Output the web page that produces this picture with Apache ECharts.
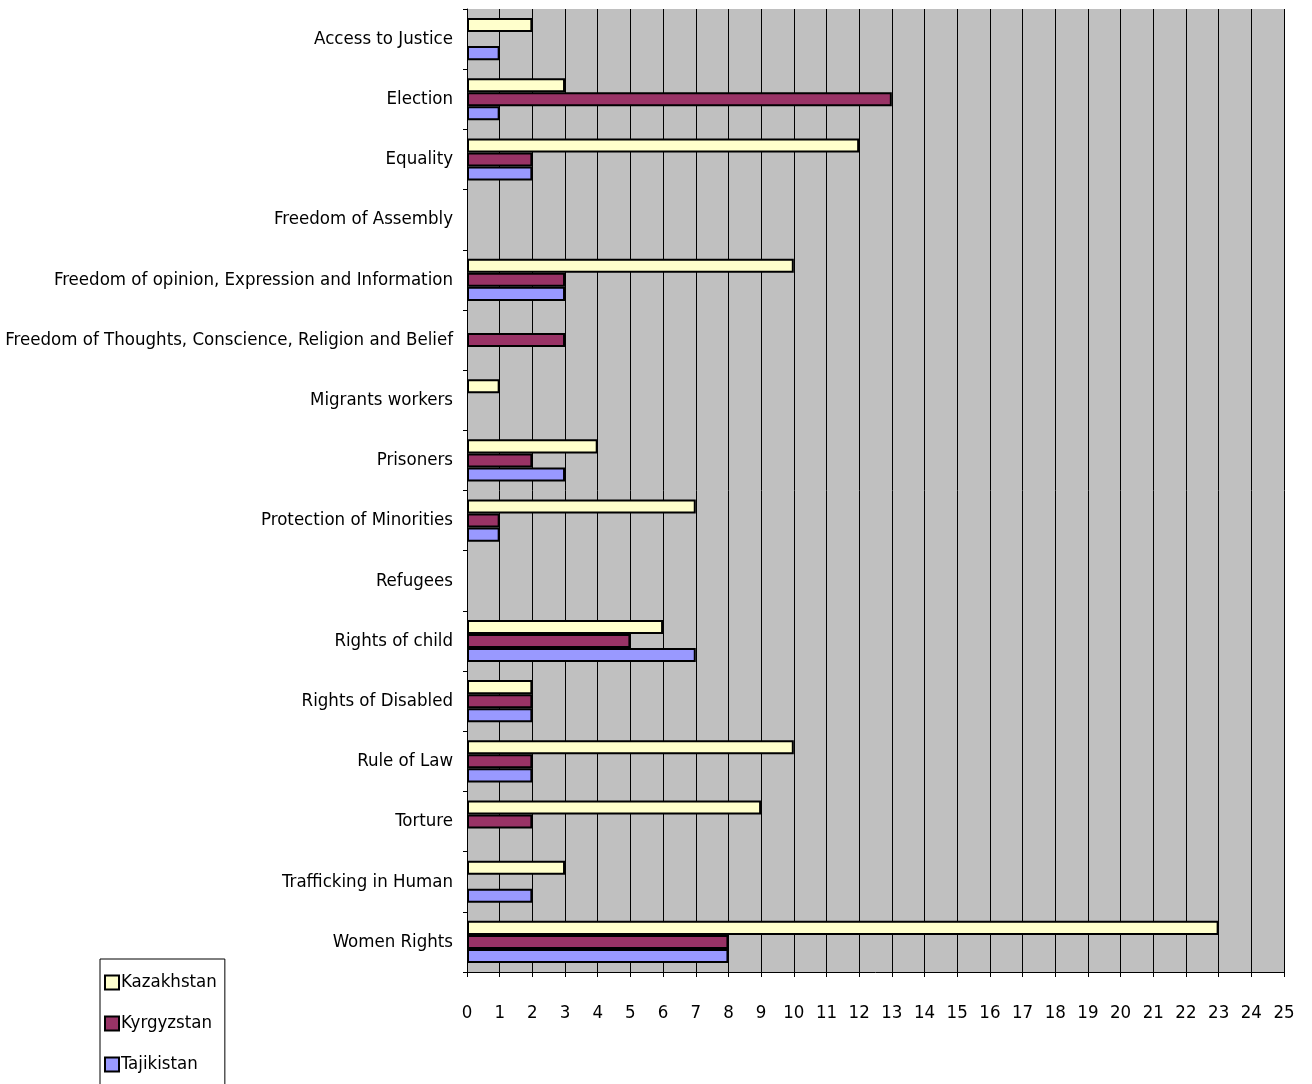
<!DOCTYPE html>
<html>
<head>
<meta charset="utf-8">
<script src="https://cdn.jsdelivr.net/npm/echarts@6/dist/echarts.min.js"></script>
<style>
  html, body { margin: 0; padding: 0; background: #fff; }
  #chart { width: 1312px; height: 1084px; }
</style>
</head>
<body>
<div id="chart"></div>
<script>
const categories = [
  "Access to Justice",
  "Election",
  "Equality",
  "Freedom of Assembly",
  "Freedom of opinion, Expression and Information",
  "Freedom of Thoughts, Conscience, Religion and Belief",
  "Migrants workers",
  "Prisoners",
  "Protection of Minorities",
  "Refugees",
  "Rights of child",
  "Rights of Disabled",
  "Rule of Law",
  "Torture",
  "Trafficking in Human",
  "Women Rights"
];
const kazakhstan = [2, 3, 12, 0, 10, 0, 1, 4, 7, 0, 6, 2, 10, 9, 3, 23];
const kyrgyzstan = [0, 13, 2, 0, 3, 3, 0, 2, 1, 0, 5, 2, 2, 2, 0, 8];
const tajikistan = [1, 1, 2, 0, 3, 0, 0, 3, 1, 0, 7, 2, 2, 0, 2, 8];

const fontFamily = "'DejaVu Sans Condensed', 'Liberation Sans Narrow', sans-serif";
const fontSize = 18.5;

let myChart = echarts.init(document.getElementById("chart"));

function barSeries(name, data, color) {
  return {
    name: name,
    type: "bar",
    data: data.map(v => (v === 0 ? null : v)),
    barGap: "0%",
    barCategoryGap: "30%",
    itemStyle: {
      color: color,
      borderColor: "#000",
      borderWidth: 2
    }
  };
}

myChart.setOption({
  animation: false,
  textStyle: { fontFamily: fontFamily },
  grid: {
    left: 467,
    top: 9,
    right: 28,
    bottom: 112,
    show: true,
    backgroundColor: "#C0C0C0",
    borderWidth: 0,
    containLabel: false,
    outerBoundsMode: "none"
  },
  legend: {
    orient: "vertical",
    left: 100,
    top: 959,
    height: 200,
    padding: [14, 8, 14, 4],
    itemGap: 22,
    itemWidth: 14,
    itemHeight: 14,
    icon: "rect",
    borderColor: "#000",
    borderWidth: 1,
    textStyle: { fontSize: fontSize, color: "#000", fontFamily: fontFamily, padding: [0, 0, 0, -3] },
    data: ["Kazakhstan", "Kyrgyzstan", "Tajikistan"]
  },
  xAxis: {
    type: "value",
    min: 0,
    max: 25,
    interval: 1,
    axisLine: { show: true, lineStyle: { color: "#000", width: 1 } },
    axisTick: { show: true, length: 5, lineStyle: { color: "#000" } },
    axisLabel: { fontSize: fontSize, color: "#000", margin: 32, fontFamily: fontFamily },
    splitLine: { show: true, lineStyle: { color: "#000", width: 1 } }
  },
  yAxis: {
    type: "category",
    inverse: true,
    data: categories,
    axisLine: { show: true, lineStyle: { color: "#000", width: 1 } },
    axisTick: { show: true, length: 4, lineStyle: { color: "#000" } },
    axisLabel: { fontSize: fontSize, color: "#000", margin: 14, fontFamily: fontFamily },
    splitLine: { show: false }
  },
  series: [
    barSeries("Kazakhstan", kazakhstan, "#FFFFCC"),
    barSeries("Kyrgyzstan", kyrgyzstan, "#993366"),
    barSeries("Tajikistan", tajikistan, "#9999FF")
  ]
});
</script>
</body>
</html>
